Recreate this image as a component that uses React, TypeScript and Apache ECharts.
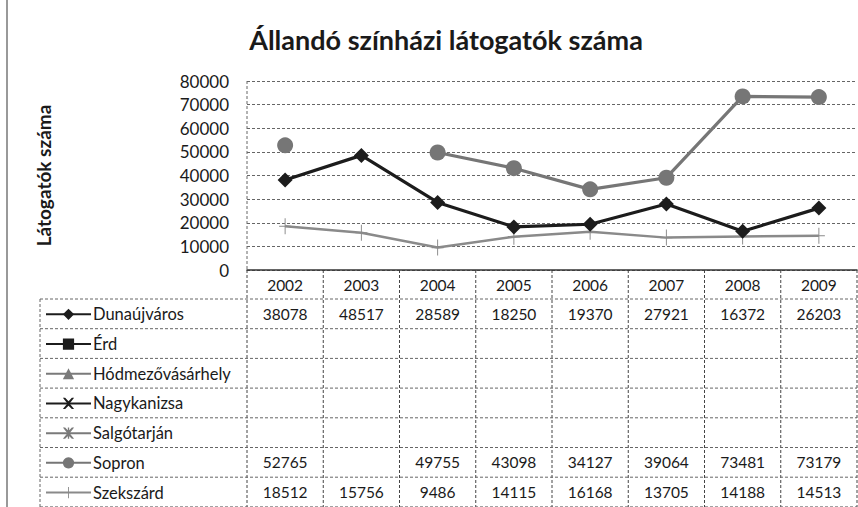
import React, { useEffect, useRef } from "react";
import * as echarts from "echarts";

const years = ["2002", "2003", "2004", "2005", "2006", "2007", "2008", "2009"];
const seriesNames = [
  "Dunaújváros",
  "Érd",
  "Hódmezővásárhely",
  "Nagykanizsa",
  "Salgótarján",
  "Sopron",
  "Szekszárd",
];
const dunaujvaros = [38078, 48517, 28589, 18250, 19370, 27921, 16372, 26203];
const erd = [null, null, null, null, null, null, null, null];
const hodmezovasarhely = [null, null, null, null, null, null, null, null];
const nagykanizsa = [null, null, null, null, null, null, null, null];
const salgotarjan = [null, null, null, null, null, null, null, null];
const sopron = [52765, null, 49755, 43098, 34127, 39064, 73481, 73179];
const szekszard = [18512, 15756, 9486, 14115, 16168, 13705, 14188, 14513];
const seriesData = [dunaujvaros, erd, hodmezovasarhely, nagykanizsa, salgotarjan, sopron, szekszard];

const FONT = "Lato, 'Open Sans', sans-serif";
const GRID_L = 247;
const GRID_R = 857;
const GRID_T = 81;
const GRID_B = 270;
const TABLE_L = 40;
const ROW_TOP = 299;
const ROW_H = 29.7;

const PLUS = "path://M9.2,0 L10.8,0 L10.8,9.3 L20,9.3 L20,10.7 L10.8,10.7 L10.8,20 L9.2,20 L9.2,10.7 L0,10.7 L0,9.3 L9.2,9.3 Z";
const XMARK = "path://M0,0 L2,0 L5,3 L8,0 L10,0 L6,5 L10,10 L8,10 L5,7 L2,10 L0,10 L4,5 Z";
const STAR = "path://M0,0 L2,0 L5,3 L8,0 L10,0 L6,5 L10,10 L8,10 L5,7 L2,10 L0,10 L4,5 Z M4.4,0 L5.6,0 L5.6,10 L4.4,10 Z";

const styles = [
  { color: "#1c1c1c", symbol: "diamond", size: 15, width: 3.2 },
  { color: "#1c1c1c", symbol: "rect", size: 11, width: 3 },
  { color: "#7a7a7a", symbol: "triangle", size: 11, width: 3 },
  { color: "#1c1c1c", symbol: XMARK, size: 10, width: 3 },
  { color: "#7a7a7a", symbol: STAR, size: 10, width: 3 },
  { color: "#767676", symbol: "circle", size: 16, width: 3.2 },
  { color: "#8a8a8a", symbol: PLUS, size: [12, 16], width: 2.5 },
];

export default function App() {
  const ref = useRef<HTMLDivElement>(null);
  useEffect(() => {
    if (!ref.current) return;
    const chart = echarts.init(ref.current, null, { renderer: "svg" });
    const series = seriesNames.map((name, i) => ({
      name,
      type: "line",
      data: seriesData[i],
      symbol: styles[i].symbol,
      symbolSize: styles[i].size,
      showSymbol: true,
      connectNulls: false,
      lineStyle: { color: styles[i].color, width: styles[i].width },
      itemStyle: { color: styles[i].color },
      z: 10 - i,
    }));
    const legends = seriesNames.map((name, i) => ({
      orient: "horizontal",
      left: 45,
      top: ROW_TOP + i * ROW_H + ROW_H / 2 - 8,
      itemWidth: 45,
      itemHeight: 14,
      padding: 0,
      selectedMode: false,
      textStyle: { fontFamily: FONT, fontSize: 16.5, color: "#1a1a1a", padding: [0, 0, 0, -3] },
      data: [name],
    }));
    const option: any = {
      animation: false,
      backgroundColor: "#ffffff",
      title: {
        text: "Állandó színházi látogatók száma",
        left: 441,
        textAlign: "center",
        top: 21,
        textStyle: { fontFamily: FONT, fontSize: 27, fontWeight: "bold", color: "#1a1a1a" },
      },
      legend: legends,
      grid: { left: GRID_L, right: 858 - GRID_R, top: GRID_T, height: GRID_B - GRID_T, containLabel: false },
      xAxis: {
        type: "category",
        data: years,
        boundaryGap: true,
        axisLine: { show: true, lineStyle: { color: "#333", width: 1.5 } },
        axisTick: { show: false },
        axisLabel: { fontFamily: FONT, fontSize: 15.5, color: "#1a1a1a", margin: 7 },
        splitLine: { show: false },
      },
      yAxis: {
        type: "value",
        min: 0,
        max: 80000,
        interval: 10000,
        name: "Látogatók száma",
        nameLocation: "middle",
        nameGap: 194,
        nameTextStyle: { fontFamily: FONT, fontSize: 19, fontWeight: "bold", color: "#1a1a1a" },
        axisLine: { show: false },
        axisTick: { show: false },
        axisLabel: { fontFamily: FONT, fontSize: 17, color: "#1a1a1a", margin: 18, formatter: (v: number) => String(v) },
        splitLine: { show: true, lineStyle: { color: "#666", type: [3, 2], width: 1 } },
      },
      series,
    };
    chart.setOption(option);

    const dash = { stroke: "#666", lineWidth: 1, lineDash: [3, 2] };
    const graphics: any[] = [];
    graphics.push({ type: "line", shape: { x1: 7, y1: 0, x2: 7, y2: 507 }, style: { stroke: "#777", lineWidth: 1.5 } });
    graphics.push({ type: "line", shape: { x1: GRID_L, y1: GRID_T, x2: GRID_L, y2: GRID_B }, style: dash });
    const band = (GRID_R - GRID_L) / years.length;
    for (let i = 0; i <= years.length; i++) {
      const x = GRID_L + i * band;
      graphics.push({ type: "line", shape: { x1: x, y1: GRID_B, x2: x, y2: 507 }, style: { ...dash, stroke: "#444" } });
    }
    graphics.push({ type: "line", shape: { x1: TABLE_L, y1: ROW_TOP, x2: TABLE_L, y2: 507 }, style: dash });
    for (let r = 0; r <= seriesNames.length; r++) {
      const y = ROW_TOP + r * ROW_H;
      graphics.push({ type: "line", shape: { x1: TABLE_L, y1: y, x2: GRID_R, y2: y }, style: dash });
    }
    seriesData.forEach((arr, r) => {
      arr.forEach((v, c) => {
        if (v == null) return;
        const x = chart.convertToPixel({ xAxisIndex: 0 }, c) as number;
        graphics.push({
          type: "text",
          x,
          y: ROW_TOP + r * ROW_H + ROW_H / 2,
          style: {
            text: String(v),
            fontFamily: FONT,
            fontSize: 15.5,
            fill: "#1a1a1a",
            textAlign: "center",
            textVerticalAlign: "middle",
          },
        });
      });
    });
    chart.setOption({ graphic: graphics });
    return () => chart.dispose();
  }, []);
  return <div ref={ref} style={{ width: 858, height: 507, position: "absolute", left: 0, top: 0 }} />;
}
